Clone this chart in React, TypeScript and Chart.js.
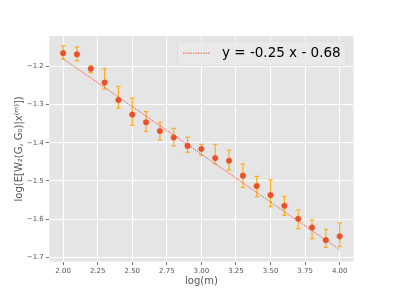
import React, { useEffect, useRef } from "react";
import { Chart, registerables } from "chart.js";

Chart.register(...registerables);

// log(m) values (x)
const logM = [2.0, 2.1, 2.2, 2.3, 2.4, 2.5, 2.6, 2.7, 2.8, 2.9, 3.0, 3.1, 3.2, 3.3, 3.4, 3.5, 3.6, 3.7, 3.8, 3.9, 4.0];
// mean log error (y)
const meanLog = [-1.165, -1.168, -1.206, -1.242, -1.288, -1.326, -1.346, -1.369, -1.386, -1.408, -1.416, -1.440, -1.447, -1.486, -1.513, -1.537, -1.565, -1.599, -1.622, -1.655, -1.645];
// error bar upper ends
const upperLog = [-1.145, -1.149, -1.198, -1.206, -1.252, -1.283, -1.318, -1.346, -1.362, -1.385, -1.404, -1.404, -1.420, -1.456, -1.488, -1.497, -1.540, -1.576, -1.602, -1.627, -1.610];
// error bar lower ends
const lowerLog = [-1.180, -1.185, -1.216, -1.259, -1.309, -1.354, -1.370, -1.392, -1.408, -1.425, -1.433, -1.455, -1.471, -1.517, -1.541, -1.567, -1.590, -1.625, -1.651, -1.674, -1.672];
// fitted line endpoints: y = -0.25 x - 0.68
const fitX = [2.0, 4.0];
const fitY = [-1.18, -1.68];
const fitLabel = "y = -0.25 x - 0.68";

const xTicks = [2.0, 2.25, 2.5, 2.75, 3.0, 3.25, 3.5, 3.75, 4.0];
const yTicks = [-1.7, -1.6, -1.5, -1.4, -1.3, -1.2];

const xLabel = "log(m)";
const yLabel = "log(E[W\u2082(G, G\u2080)|x\u207D\u1D50\u207E])";

const FONT = "'DejaVu Sans', sans-serif";

const errorBarPlugin = {
  id: "errorBars",
  beforeDatasetsDraw(chart: any) {
    const { ctx, scales } = chart;
    const x = scales.x;
    const y = scales.y;
    ctx.save();
    ctx.strokeStyle = "rgba(255,165,0,0.85)";
    ctx.lineWidth = 1.2;
    logM.forEach((m, i) => {
      const px = x.getPixelForValue(m);
      const top = y.getPixelForValue(upperLog[i]);
      const bot = y.getPixelForValue(lowerLog[i]);
      ctx.beginPath();
      ctx.moveTo(px, top);
      ctx.lineTo(px, bot);
      ctx.moveTo(px - 2.2, top);
      ctx.lineTo(px + 2.2, top);
      ctx.moveTo(px - 2.2, bot);
      ctx.lineTo(px + 2.2, bot);
      ctx.stroke();
    });
    ctx.restore();
  },
};

const legendPlugin = {
  id: "innerLegend",
  afterDraw(chart: any) {
    const { ctx, chartArea } = chart;
    const boxRight = chartArea.right - 7.5;
    const boxTop = chartArea.top + 5.2;
    const boxW = 168.5;
    const boxH = 24.5;
    const boxLeft = boxRight - boxW;
    ctx.save();
    ctx.beginPath();
    const r = 3;
    ctx.moveTo(boxLeft + r, boxTop);
    ctx.arcTo(boxRight, boxTop, boxRight, boxTop + boxH, r);
    ctx.arcTo(boxRight, boxTop + boxH, boxLeft, boxTop + boxH, r);
    ctx.arcTo(boxLeft, boxTop + boxH, boxLeft, boxTop, r);
    ctx.arcTo(boxLeft, boxTop, boxRight, boxTop, r);
    ctx.closePath();
    ctx.fillStyle = "rgba(233,233,233,0.88)";
    ctx.fill();
    ctx.strokeStyle = "rgba(215,215,215,0.6)";
    ctx.lineWidth = 1;
    ctx.stroke();
    // sample line
    ctx.beginPath();
    ctx.setLineDash([1.5, 1]);
    ctx.strokeStyle = "rgba(235,75,45,0.9)";
    ctx.lineWidth = 1;
    ctx.moveTo(boxLeft + 5.5, boxTop + 12);
    ctx.lineTo(boxLeft + 32, boxTop + 12);
    ctx.stroke();
    ctx.setLineDash([]);
    ctx.fillStyle = "#000";
    ctx.font = `13.5px ${FONT}`;
    ctx.textBaseline = "middle";
    ctx.textAlign = "left";
    ctx.fillText(fitLabel, boxLeft + 44.5, boxTop + 12);
    ctx.restore();
  },
};

export default function App() {
  const ref = useRef<HTMLCanvasElement>(null);
  useEffect(() => {
    if (!ref.current) return;
    const chart = new Chart(ref.current, {
      type: "scatter",
      data: {
        datasets: [
          {
            label: fitLabel,
            data: fitX.map((x, i) => ({ x, y: fitY[i] })),
            showLine: true,
            borderColor: "rgba(230,74,51,0.85)",
            borderWidth: 1,
            borderDash: [1.5, 1],
            pointRadius: 0,
            fill: false,
          },
          {
            label: "mean",
            data: logM.map((x, i) => ({ x, y: meanLog[i] })),
            pointRadius: 2.8,
            backgroundColor: "#EB4F27",
            borderColor: "rgba(240,90,50,0.55)",
            borderWidth: 0.8,
          },
        ],
      },
      options: {
        animation: false,
        responsive: false,
        events: [],
        layout: { padding: { top: 36, right: 39.5, left: 0, bottom: 0 } },
        plugins: {
          legend: { display: false },
          tooltip: { enabled: false },
        },
        scales: {
          x: {
            type: "linear",
            min: 1.9,
            max: 4.1,
            afterBuildTicks: (s: any) => {
              s.ticks = xTicks.map((v) => ({ value: v }));
            },
            afterFit: (s: any) => {
              s.height = 33.3;
            },
            ticks: {
              font: { family: FONT, size: 7 },
              color: "#555555",
              padding: 1.5,
              maxRotation: 0,
              autoSkip: false,
              callback: (v: any) => Number(v).toFixed(2),
            },
            grid: {
              color: "#ffffff",
              lineWidth: 1,
              tickColor: "#555555",
              tickLength: 3.5,
              tickWidth: 0.8,
            },
            border: { display: false },
            title: {
              display: true,
              text: xLabel,
              font: { family: FONT, size: 10 },
              color: "#555555",
              padding: { top: 0, bottom: 7.3 },
            },
          },
          y: {
            type: "linear",
            min: -1.7115,
            max: -1.12,
            afterBuildTicks: (s: any) => {
              s.ticks = yTicks.map((v) => ({ value: v }));
            },
            afterFit: (s: any) => {
              s.width = 49.3;
            },
            ticks: {
              font: { family: FONT, size: 7 },
              color: "#555555",
              padding: 2,
              autoSkip: false,
              callback: (v: any) => Number(v).toFixed(1).replace("-", "\u2212"),
            },
            grid: {
              color: "#ffffff",
              lineWidth: 1,
              tickColor: "#555555",
              tickLength: 3.5,
              tickWidth: 0.8,
            },
            border: { display: false },
            title: {
              display: true,
              text: yLabel,
              font: { family: FONT, size: 10 },
              color: "#555555",
              padding: { top: 13, bottom: 0 },
            },
          },
        },
      },
      plugins: [
        {
          id: "bg",
          beforeDraw(chart: any) {
            const { ctx, chartArea: a } = chart;
            ctx.save();
            ctx.fillStyle = "#ffffff";
            ctx.fillRect(0, 0, chart.width, chart.height);
            ctx.fillStyle = "#E5E5E5";
            ctx.fillRect(a.left, a.top, a.right - a.left, a.bottom - a.top);
            ctx.restore();
          },
        },
        errorBarPlugin,
        legendPlugin,
      ],
    } as any);
    return () => chart.destroy();
  }, []);
  return (
    <div style={{ position: "absolute", left: 0, top: 0, width: 393, height: 295 }}>
      <canvas ref={ref} width={393} height={295} style={{ width: 393, height: 295, display: "block" }} />
    </div>
  );
}
